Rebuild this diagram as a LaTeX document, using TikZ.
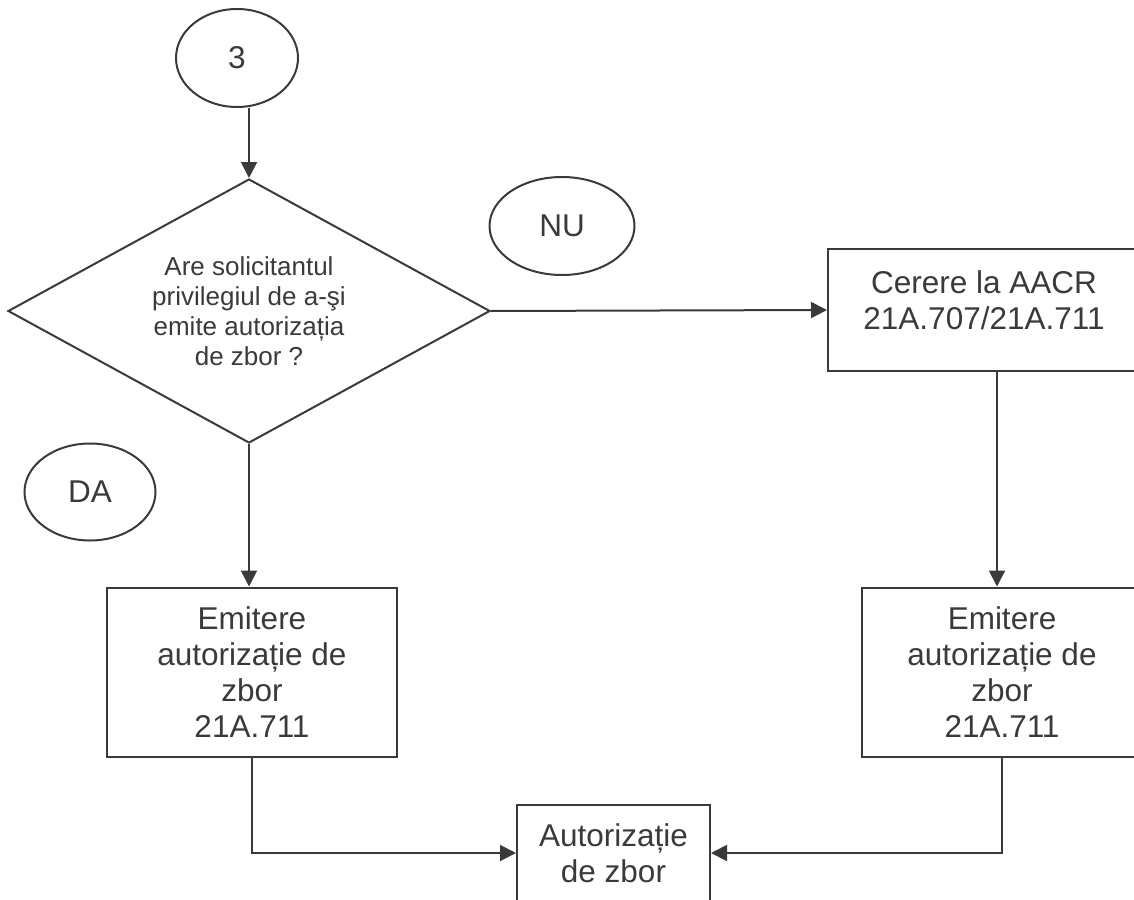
\documentclass[tikz,border=0pt]{standalone}
\usepackage{fontspec}
\setmainfont{Liberation Sans}
\usetikzlibrary{shapes.geometric,arrows.meta}
\definecolor{ink}{HTML}{3A3A3A}
\tikzset{
    every node/.style={text=ink, font=\fontsize{15.75}{18}\selectfont},
    line/.style={draw=ink, line width=1pt},
    arr/.style={line, -{Triangle[length=8pt,width=8pt]}},
    box/.style={line, rectangle, align=center, inner sep=0pt},
    oval/.style={line, ellipse, inner sep=0pt},
    ask/.style={line, diamond, aspect=1.83, inner sep=0pt, align=center,
        minimum width=241pt, minimum height=132pt,
        font=\fontsize{13}{15}\selectfont}
}
\begin{document}
\begin{tikzpicture}[x=0.5pt, y=-0.5pt]
    \useasboundingbox (0,0) rectangle (1134,899);
    \clip (0,0) rectangle (1134,899);

    % start, question and answers
    \node[oval, minimum width=61pt, minimum height=49pt] (three) at (237,58) {3};
    \node[ask] (q) at (249,311) {Are solicitantul\\privilegiul de a-şi\\emite autorizația\\de zbor ?};
    \node[oval, minimum width=72.5pt, minimum height=49pt] (nu) at (562,226) {NU};
    \node[oval, minimum width=65.5pt, minimum height=48.5pt] (da) at (90,492) {DA};

    % boxes
    \node[box, minimum width=156pt, minimum height=61pt] (cerere) at (984,310)
        {Cerere la AACR\\21A.707/21A.711\\[-8pt]\mbox{}};
    \node[box, minimum width=145pt, minimum height=84.5pt] (emL) at (252,672)
        {Emitere\\autorizație de\\zbor\\21A.711};
    \node[box, minimum width=140pt, minimum height=84.5pt] (emR) at (1002,672)
        {Emitere\\autorizație de\\zbor\\21A.711};
    \node[box, minimum width=96.5pt, minimum height=48pt] (auto) at (613.5,853)
        {Autorizație\\de zbor};

    % connectors
    \draw[arr] (three.south -| q.north) -- (q.north);
    \draw[arr] (q.east) -- (cerere.west);
    \draw[arr] (q.south) -- (q.south |- emL.north);
    \draw[arr] ([xshift=6.5pt]cerere.south) -- ([xshift=6.5pt]cerere.south |- emR.north);
    \draw[arr] (emL.south) |- (auto.west);
    \draw[arr] (emR.south) |- (auto.east);
\end{tikzpicture}
\end{document}
